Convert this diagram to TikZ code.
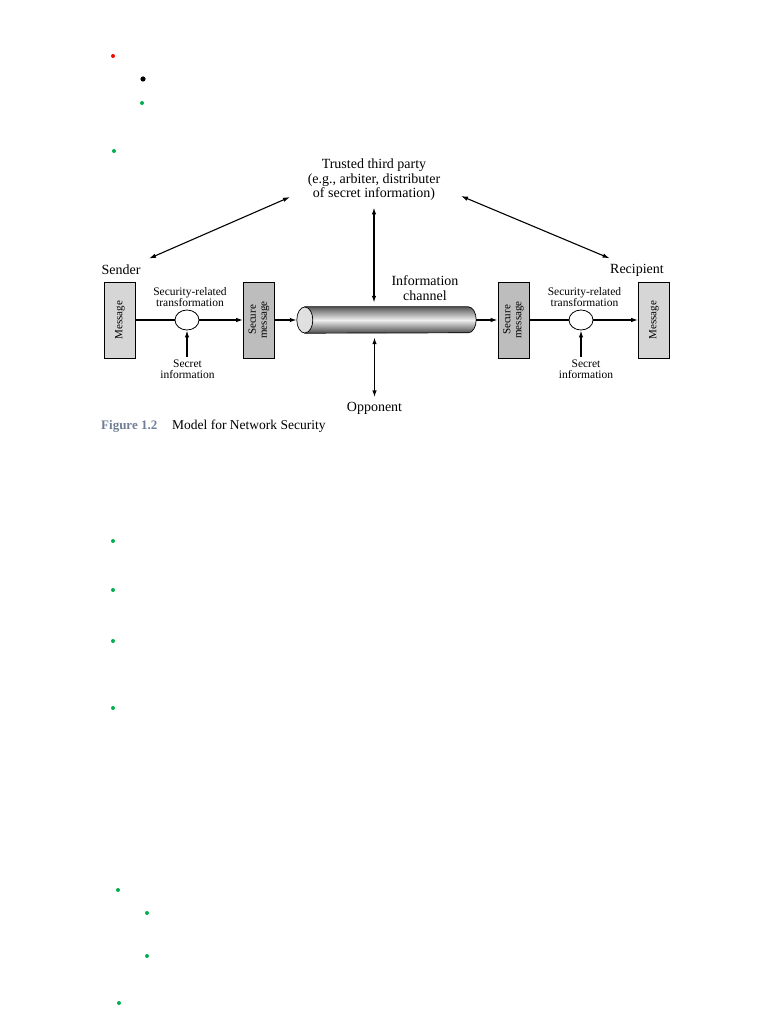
\documentclass[tikz,border=0pt]{standalone}
\usepackage{fontspec}
\setmainfont{Liberation Serif}
\usepackage{xcolor}
\usepackage{tikz}
\usetikzlibrary{arrows.meta,shapes.geometric}
\definecolor{bulgreen}{RGB}{0,176,80}
\definecolor{figblue}{RGB}{112,126,150}

\begin{document}
\begin{tikzpicture}[x=1pt,y=-1pt,
  big/.style={font=\fontsize{14}{14.5}\selectfont, align=center},
  small/.style={font=\fontsize{11.5}{11}\selectfont, align=center},
  msgbox/.style={draw, line width=0.7pt, fill=#1, minimum width=76pt, minimum height=31pt,
    rotate=90, font=\fontsize{11}{11}\selectfont, align=center, inner sep=1pt},
  xform/.style={draw, line width=0.8pt, ellipse, fill=white, minimum width=24pt,
    minimum height=20pt, inner sep=0pt},
  flow/.style={line width=1.3pt, -{Latex[length=7pt,width=4.5pt]}},
  dbl/.style={line width=1.1pt, {Latex[length=7pt,width=4.5pt]}-{Latex[length=7pt,width=4.5pt]}}]

\useasboundingbox (0,0) rectangle (768,1024);

% page bullets
\foreach \bx/\by/\bc/\br in {113/56/red/2, 143/79/black/2.6, 142/103/bulgreen/2,
    114/151/bulgreen/2, 113/541/bulgreen/2, 113/590/bulgreen/2, 113/641/bulgreen/2,
    113/708/bulgreen/2, 118/890/bulgreen/2, 147/913/bulgreen/2, 147/956/bulgreen/2,
    119/1003/bulgreen/2}
  \fill[\bc] (\bx,\by) circle[radius=\br pt];

% parties
\node[big] (ttp) at (374,180) {Trusted third party\\(e.g., arbiter, distributer\\of secret information)};
\node[big] (sender) at (121,270) {Sender};
\node[big] (recip) at (637,270) {Recipient};
\coordinate (ttpL) at (290,197);
\coordinate (ttpR) at (461,196);

% sender side
\node[msgbox=black!16] (msgL) at (120,320) {Message};
\node[xform] (xfL) at (187,320) {};
\node[msgbox=black!26] (smL) at (259,320) {Secure\\message};
\node[small] (relL) at (190,297.5) {Security-related\\transformation};
\node[small] (secL) at (187.5,369.5) {Secret\\information};

% channel
\node[minimum width=179pt, minimum height=26pt, inner sep=0pt] (chan) at (386.5,320) {};
\shade[draw, line width=0.7pt, top color=black!65, bottom color=black!70, middle color=black!6]
  ([xshift=8pt]chan.north west) -- ([xshift=-8pt]chan.north east)
  arc[start angle=90, end angle=-90, x radius=8pt, y radius=13pt]
  -- ([xshift=8pt]chan.south west) -- cycle;
\draw[line width=0.7pt, fill=black!12] ([xshift=8pt]chan.west) ellipse[x radius=8pt, y radius=13pt];
\node[big] (chlbl) at (425,288) {Information\\channel};
\node[big] (opp) at (374.5,408) {Opponent};

% recipient side
\node[msgbox=black!26] (smR) at (513.5,320) {Secure\\message};
\node[xform] (xfR) at (581,320) {};
\node[msgbox=black!16] (msgR) at (654,320) {Message};
\node[small] (relR) at (584.5,297.5) {Security-related\\transformation};
\node[small] (secR) at (586,369.5) {Secret\\information};

% connectors
\draw[line width=1.3pt] (msgL) -- (xfL);
\draw[flow] (xfL) -- (smL);
\draw[flow] (smL) -- (chan);
\draw[flow] (chan) -- (smR);
\draw[line width=1.3pt] (smR) -- (xfR);
\draw[flow] (xfR) -- (msgR);
\draw[flow] (secL.north -| xfL.south) -- (xfL.south);
\draw[flow] (secR.north -| xfR.south) -- (xfR.south);

\draw[dbl] ([xshift=5pt,yshift=3pt]sender.north east) -- (ttpL);
\draw[dbl] ([xshift=3pt,yshift=2pt]recip.north west) -- (ttpR);
\draw[dbl, line width=1.4pt, shorten <=3pt, shorten >=4pt] (ttp.south) -- (ttp.south |- chan.north);
\draw[dbl, line width=1.4pt, shorten <=4pt, shorten >=1pt] (opp.north |- chan.south) -- (opp.north);

% caption
\node[anchor=west, inner sep=0pt, text=figblue, font=\fontsize{13}{14}\selectfont\bfseries] (figno) at (101,426) {Figure 1.2};
\node[anchor=west, inner sep=0pt, font=\fontsize{13.5}{14}\selectfont] (figcap) at (172,426) {Model for Network Security};

\end{tikzpicture}
\end{document}
